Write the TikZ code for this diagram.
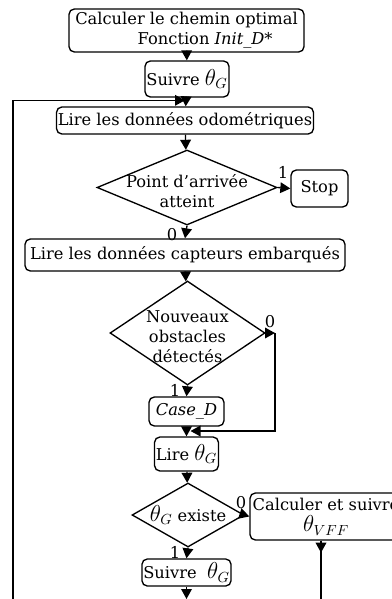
\documentclass[tikz,border=0pt]{standalone}
\usepackage{fontspec}
\setmainfont{DejaVu Serif}
\usetikzlibrary{shapes.geometric, arrows.meta}
\newcommand{\bigtheta}[1]{{\fontsize{16}{15}\selectfont$\theta_{#1}$}}

\begin{document}
\begin{tikzpicture}[x=0.75pt, y=-0.75pt,
    every node/.style={font=\fontsize{12.2}{15}\selectfont},
    block/.style={shape=rectangle, rounded corners=4pt, draw,
      line width=1pt, align=center, inner sep=1pt},
    decision/.style={shape=diamond, draw, line width=1pt, inner sep=0pt},
    flow/.style={line width=1pt, -{Triangle[width=8pt,length=7.5pt]}},
    tag/.style={inner sep=0pt}
  ]
  \useasboundingbox (0,0) rectangle (392,599);

  % main column
  \node[block, minimum width=176.25pt, minimum height=32.25pt] (init) at (186.5,30.5)
    {Calculer le chemin optimal\\\hspace*{28pt}Fonction \textit{Init\_D*}};
  \node[block, minimum width=63pt, minimum height=27pt] (suivre) at (187,79) {Suivre \bigtheta{G}};
  \node[block, minimum width=192pt, minimum height=20.25pt] (odo) at (185,120.5)
    {Lire les données odométriques};
  \node[decision, minimum width=135pt, minimum height=56.25pt,
    label={[align=center, yshift=-3pt]center:Point d’arrivée\\atteint}] (arrivee) at (187,187.5) {};
  \node[block, minimum width=42.75pt, minimum height=27.75pt] (stop) at (319.5,188.5) {Stop};
  \node[block, minimum width=240pt, minimum height=24pt] (capteurs) at (185,255)
    {Lire les données capteurs embarqués};
  \node[decision, minimum width=116.25pt, minimum height=78pt,
    label={[align=center, yshift=-3pt]center:Nouveaux\\obstacles\\détectés}] (obstacles) at (187.5,333) {};
  \node[block, minimum width=56.25pt, minimum height=21.75pt] (cased) at (186.5,411.5) {\textit{Case\_D}};
  \node[block, minimum width=44.25pt, minimum height=25.5pt] (lireg) at (186.5,454) {Lire \bigtheta{G}};
  \node[decision, minimum width=84pt, minimum height=48pt,
    label={center:\bigtheta{G} existe}] (existe) at (188,515) {};
  \node[block, minimum width=114pt, minimum height=35.25pt] (vff) at (326,516.5)
    {Calculer et suivre\\[1pt]\bigtheta{VFF}};
  \node[block, minimum width=65.25pt, minimum height=20.25pt] (suivreb) at (186.5,572.5) {Suivre~ \bigtheta{G}};

  % free ends
  \coordinate (loop) at (13,602);
  \coordinate (joinodo) at ([yshift=4.5pt]odo.north);
  \coordinate (corner) at (275,333);
  \coordinate (joinlire) at ([xshift=3pt, yshift=4pt]lireg.north);
  \coordinate (endsuivre) at (186.5,599);
  \coordinate (endvff) at (321,602);

  % connectors
  \draw[flow] (init) -- (suivre);
  \draw[flow] (suivre) -- (odo);
  \draw[flow] (loop) |- (joinodo);
  \draw[flow] (odo) -- (arrivee);
  \draw[flow] (arrivee.east) -- (stop.west);
  \draw[flow] (arrivee.south) -- (capteurs.north);
  \draw[flow] (capteurs) -- (obstacles);
  \draw[flow] (obstacles.south) -- (cased.north);
  \draw[flow] (obstacles.east) -- (corner);
  \draw[flow] (corner) |- (joinlire);
  \draw[flow] (cased) -- (lireg);
  \draw[flow] (lireg) -- (existe);
  \draw[flow] (existe.east) -- (vff.west);
  \draw[flow] (existe.south) -- (suivreb.north);
  \draw[flow] (suivreb.south) -- (endsuivre);
  \draw[line width=1pt] (vff.south -| endvff) -- (endvff);
  \draw[flow] (vff.south -| endvff) -- ++(0,12);

  % branch tags
  \node[tag] (t1) at (283,172) {1};
  \node[tag] (t2) at (172,235) {0};
  \node[tag] (t3) at (270,322) {0};
  \node[tag] (t4) at (175,390) {1};
  \node[tag] (t5) at (241,503) {0};
  \node[tag] (t6) at (175,552) {1};
\end{tikzpicture}
\end{document}
